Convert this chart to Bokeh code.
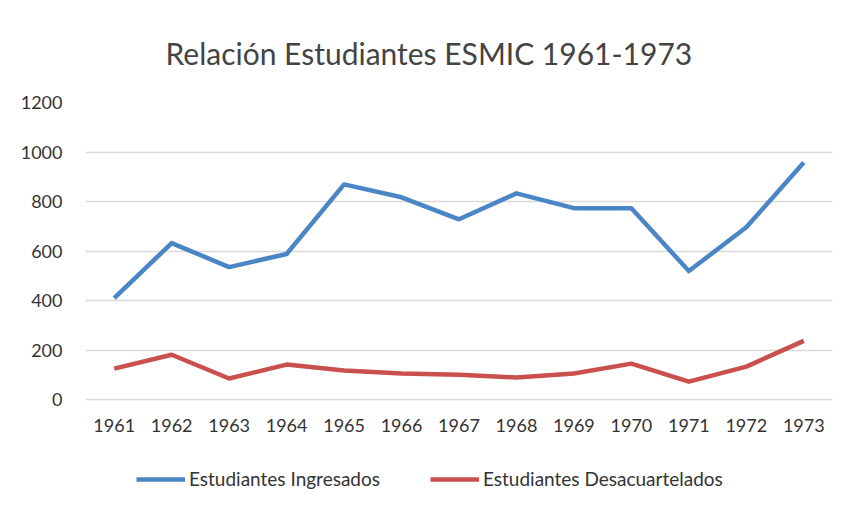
from bokeh.plotting import figure
from bokeh.models import Range1d, Legend, LegendItem, FixedTicker
from bokeh.embed import file_html
from bokeh.resources import INLINE

years = ["1961", "1962", "1963", "1964", "1965", "1966", "1967",
         "1968", "1969", "1970", "1971", "1972", "1973"]
ingresados = [410, 632, 535, 588, 869, 817, 728, 833, 773, 773, 519, 696, 958]
desacuartelados = [125, 181, 85, 141, 117, 105, 100, 89, 105, 145, 72, 133, 237]
y_ticks = [0, 200, 400, 600, 800, 1000, 1200]

FONT = "Lato"
# frame extends below the zero line so that axis labels and legend sit inside it
p = figure(x_range=years, y_range=Range1d(-444.4, 1200),
           frame_width=747, frame_height=407,
           output_backend="svg", toolbar_location=None,
           min_border_left=85, min_border_right=9, min_border_top=102,
           min_border_bottom=0)
p.title.text = "Relación Estudiantes ESMIC 1961-1973"
p.title.align = "left"
p.title.text_font = FONT
p.title.text_font_size = "30px"
p.title.text_font_style = "normal"
p.title.text_color = "#444444"
p.title.offset = 80
p.title.standoff = 64

r1 = p.line(years, ingresados, line_color="#4A86C6", line_width=4.5, line_join="round")
r2 = p.line(years, desacuartelados, line_color="#C9504C", line_width=4.5, line_join="round")

p.outline_line_color = None
p.xgrid.grid_line_color = None
p.ygrid.grid_line_color = "#D9D9D9"
p.ygrid.grid_line_width = 1.5
p.yaxis.ticker = FixedTicker(ticks=y_ticks)
for ax in (p.xaxis, p.yaxis):
    ax.axis_line_color = None
    ax.major_tick_line_color = None
    ax.minor_tick_line_color = None
    ax.major_tick_out = 0
    ax.major_tick_in = 0
    ax.major_label_text_font = FONT
    ax.major_label_text_font_size = "18px"
    ax.major_label_text_color = "#333333"
p.xaxis.fixed_location = 0
p.xaxis.major_label_standoff = 19
p.yaxis.major_label_standoff = 23

legend = Legend(items=[LegendItem(label="Estudiantes Ingresados", renderers=[r1]),
                       LegendItem(label="Estudiantes Desacuartelados", renderers=[r2])],
                orientation="horizontal", location=(51, 19),
                label_text_font=FONT, label_text_font_size="19px",
                label_text_color="#333333", border_line_color=None,
                background_fill_alpha=0,
                glyph_width=49, label_standoff=4, spacing=50,
                margin=0, padding=0)
p.add_layout(legend, "center")

open("out.html", "w").write(file_html(p, INLINE))
